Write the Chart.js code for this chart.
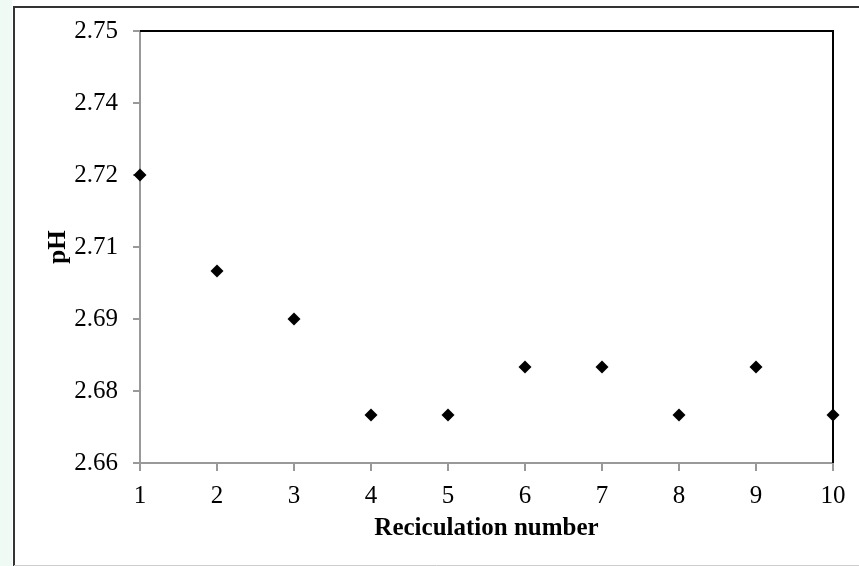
<!DOCTYPE html>
<html>
<head>
<meta charset="utf-8">
<script src="https://cdn.jsdelivr.net/npm/chart.js@4/dist/chart.umd.min.js"></script>
<style>
  html, body { margin: 0; padding: 0; background: #fff; }
  #wrap { width: 859px; height: 566px; }
</style>
</head>
<body>
<div id="wrap"><canvas id="phChart" width="859" height="566"></canvas></div>
<script>
// recirculation runs and measured pH
const runs = [1, 2, 3, 4, 5, 6, 7, 8, 9, 10];
const phValues = [2.72, 2.70, 2.69, 2.67, 2.67, 2.68, 2.68, 2.67, 2.68, 2.67];

// y ticks as printed on the original (0.015 steps, shown with 2 decimals)
const yTickValues = [2.66, 2.675, 2.69, 2.705, 2.72, 2.735, 2.75];
const yTickLabels = ['2.66', '2.68', '2.69', '2.71', '2.72', '2.74', '2.75'];

const serif = "'Liberation Serif', 'Times New Roman', serif";

// outer frame, mint strip and the black top/right edges of the plot box
const framePlugin = {
  id: 'frame',
  beforeDraw(chart) {
    const c = chart.ctx;
    c.save();
    c.fillStyle = '#ffffff';
    c.fillRect(0, 0, chart.width, chart.height);
    c.fillStyle = '#eefaf3';
    c.fillRect(0, 0, 12, chart.height);
    c.strokeStyle = '#333';
    c.lineWidth = 2;
    c.beginPath();
    c.moveTo(14, 566);
    c.lineTo(14, 7);
    c.lineTo(859, 7);
    c.stroke();
    c.strokeStyle = '#ccc';
    c.lineWidth = 1;
    c.beginPath();
    c.moveTo(14, 565.5);
    c.lineTo(859, 565.5);
    c.stroke();
    c.restore();
  },
  afterDatasetsDraw(chart) {
    const a = chart.chartArea;
    const c = chart.ctx;
    c.save();
    c.strokeStyle = '#000';
    c.lineWidth = 2;
    c.beginPath();
    c.moveTo(a.left, a.top);
    c.lineTo(a.right, a.top);
    c.lineTo(a.right, a.bottom);
    c.stroke();
    c.restore();
  }
};

new Chart(document.getElementById('phChart'), {
  type: 'scatter',
  data: {
    datasets: [{
      data: runs.map((r, i) => ({ x: r, y: phValues[i] })),
      pointStyle: 'rectRot',
      pointRadius: 6.5,
      pointHoverRadius: 6.5,
      backgroundColor: '#000',
      borderColor: '#000',
      borderWidth: 0,
      clip: false
    }]
  },
  options: {
    responsive: false,
    animation: false,
    events: [],
    layout: { padding: { top: 31, right: 26, left: 44, bottom: 0 } },
    plugins: { legend: { display: false }, tooltip: { enabled: false } },
    scales: {
      x: {
        type: 'linear',
        min: 1,
        max: 10,
        afterBuildTicks(scale) {
          scale.ticks = runs.map(v => ({ value: v }));
        },
        afterFit(scale) { scale.height = 103; },
        border: { color: '#999', width: 2 },
        grid: { drawOnChartArea: false, color: '#999', lineWidth: 2, tickLength: 8 },
        ticks: { color: '#000', padding: 10, font: { family: serif, size: 25 } },
        title: {
          display: true,
          text: 'Reciculation number',
          color: '#000',
          padding: { top: 4, bottom: 22 },
          font: { family: serif, size: 25, weight: 'bold' }
        }
      },
      y: {
        min: 2.66,
        max: 2.75,
        afterBuildTicks(scale) {
          scale.ticks = yTickValues.map(v => ({ value: v }));
        },
        afterFit(scale) { scale.width = 96; },
        border: { color: '#999', width: 2 },
        grid: { drawOnChartArea: false, color: '#999', lineWidth: 2, tickLength: 7 },
        ticks: {
          color: '#000',
          padding: 15,
          font: { family: serif, size: 25 },
          callback: (v, i) => yTickLabels[i]
        },
        title: {
          display: true,
          text: 'pH',
          color: '#000',
          padding: { top: 0, bottom: 0 },
          font: { family: serif, size: 25, weight: 'bold' }
        }
      }
    }
  },
  plugins: [framePlugin]
});
</script>
</body>
</html>
